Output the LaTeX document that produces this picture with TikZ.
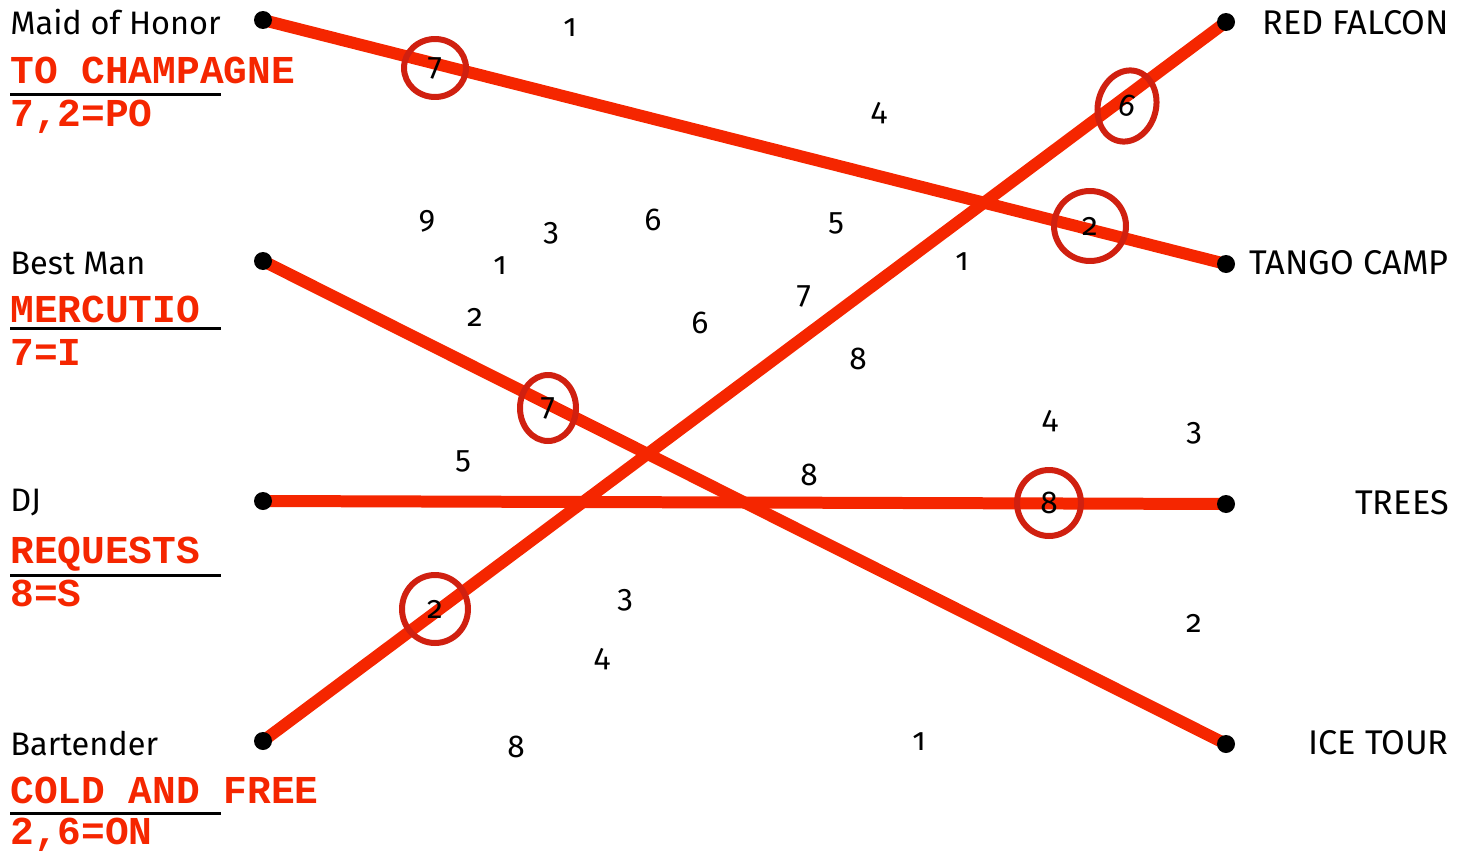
\documentclass[tikz,border=0pt]{standalone}
\usepackage{fontspec}
\setmainfont{Fira Sans}[Numbers=OldStyle]
\setmonofont{Liberation Mono}
\usepackage{tikz}
\usetikzlibrary{positioning,shapes.geometric,backgrounds}
\usepackage{xcolor}
\definecolor{cuerda}{RGB}{245,38,0}
\definecolor{anillo}{RGB}{208,32,16}

\begin{document}
\begin{tikzpicture}[x=0.02cm, y=-0.02cm,
    dot/.style={circle, fill=black, minimum size=0.36cm, inner sep=0pt},
    who/.style={anchor=west, font=\fontsize{18.5}{20}\selectfont, inner sep=0pt},
    what/.style={anchor=east, font=\fontsize{19.5}{21}\selectfont, inner sep=0pt},
    clue/.style={anchor=base west, text=cuerda, font=\fontsize{22.5}{24}\selectfont\ttfamily\bfseries, inner sep=0pt},
    num/.style={font=\fontsize{18}{20}\selectfont, inner sep=0pt},
    ring/.style={ellipse, draw=anillo, line width=0.12cm, inner sep=0pt, font=\fontsize{18}{20}\selectfont},
    link/.style={draw=cuerda, line width=0.24cm},
    rule/.style={draw=black, line width=0.06cm}]

  \useasboundingbox (0,0) rectangle (1470,852);

  % Puntos de la izquierda y de la derecha
  \node[dot] (maid) at (263,20) {};
  \node[dot] (best) at (263,261) {};
  \node[dot] (dj) at (263,501) {};
  \node[dot] (bar) at (263,741) {};
  \node[dot] (falcon) at (1226,22) {};
  \node[dot] (tango) at (1226,264) {};
  \node[dot] (trees) at (1226,504) {};
  \node[dot] (ice) at (1226,744) {};

  % Nombres a la izquierda
  \node[who] (maidlbl) at (10,22) {Maid of Honor};
  \node[who] (bestlbl) at (10,263) {Best Man};
  \node[who] (djlbl) at (10,503) {DJ};
  \node[who] (barlbl) at (10,743) {Bartender};

  % Pistas en rojo (con su raya)
  \node[clue] (maidclue) at (10,83) {TO CHAMPAGNE};
  \node[clue] (maidkey) at (10,126) {7,2=PO};
  \node[clue] (bestclue) at (10,322) {MERCUTIO};
  \node[clue] (bestkey) at (10,365) {7=I};
  \node[clue] (djclue) at (10,563) {REQUESTS};
  \node[clue] (djkey) at (10,606) {8=S};
  \node[clue] (barclue) at (10,803) {COLD AND FREE};
  \node[clue] (barkey) at (10,844) {2,6=ON};
  \draw[rule] (10,94) -- (221,94);
  \draw[rule] (10,328) -- (221,328);
  \draw[rule] (10,575) -- (221,575);
  \draw[rule] (10,813) -- (221,813);

  % Nombres a la derecha
  \node[what] (falconlbl) at (1449,23) {RED FALCON};
  \node[what] (tangolbl) at (1449,263) {TANGO CAMP};
  \node[what] (treeslbl) at (1449,503) {TREES};
  \node[what] (icelbl) at (1449,743) {ICE TOUR};

  % Cuerdas (detrás de los puntos)
  \begin{scope}[on background layer]
    \draw[link] (maid.center) -- (tango.center);
    \draw[link] (best.center) -- (ice.center);
    \draw[link] (dj.center) -- (trees.center);
    \draw[link] (bar.center) -- (falcon.center);
  \end{scope}

  % Números marcados con anillo
  \node[ring, minimum width=1.24cm, minimum height=1.16cm] (r1) at (435,68) {7};
  \node[ring, minimum width=1.16cm, minimum height=1.44cm, rotate=-15] (r2) at (1127,106) {6};
  \node[ring, minimum width=1.44cm, minimum height=1.40cm] (r3) at (1090,226) {2};
  \node[ring, minimum width=1.12cm, minimum height=1.32cm] (r4) at (548,408) {7};
  \node[ring, minimum width=1.28cm, minimum height=1.32cm] (r5) at (1049,503) {8};
  \node[ring, minimum width=1.32cm, minimum height=1.36cm] (r6) at (435,609) {2};

  % Números sueltos
  \node[num] (n1) at (570,28) {1};
  \node[num] (n2) at (879,113) {4};
  \node[num] (n3) at (427,221) {9};
  \node[num] (n4) at (551,233) {3};
  \node[num] (n5) at (653,220) {6};
  \node[num] (n6) at (836,223) {5};
  \node[num] (n7) at (500,266) {1};
  \node[num] (n8) at (962,262) {1};
  \node[num] (n9) at (475,317) {2};
  \node[num] (n10) at (804,296) {7};
  \node[num] (n11) at (700,323) {6};
  \node[num] (n12) at (858,359) {8};
  \node[num] (n13) at (1050,421) {4};
  \node[num] (n14) at (1194,433) {3};
  \node[num] (n15) at (463,461) {5};
  \node[num] (n16) at (809,475) {8};
  \node[num] (n17) at (625,600) {3};
  \node[num] (n18) at (602,659) {4};
  \node[num] (n19) at (1194,623) {2};
  \node[num] (n20) at (516,747) {8};
  \node[num] (n21) at (919,742) {1};

\end{tikzpicture}
\end{document}
